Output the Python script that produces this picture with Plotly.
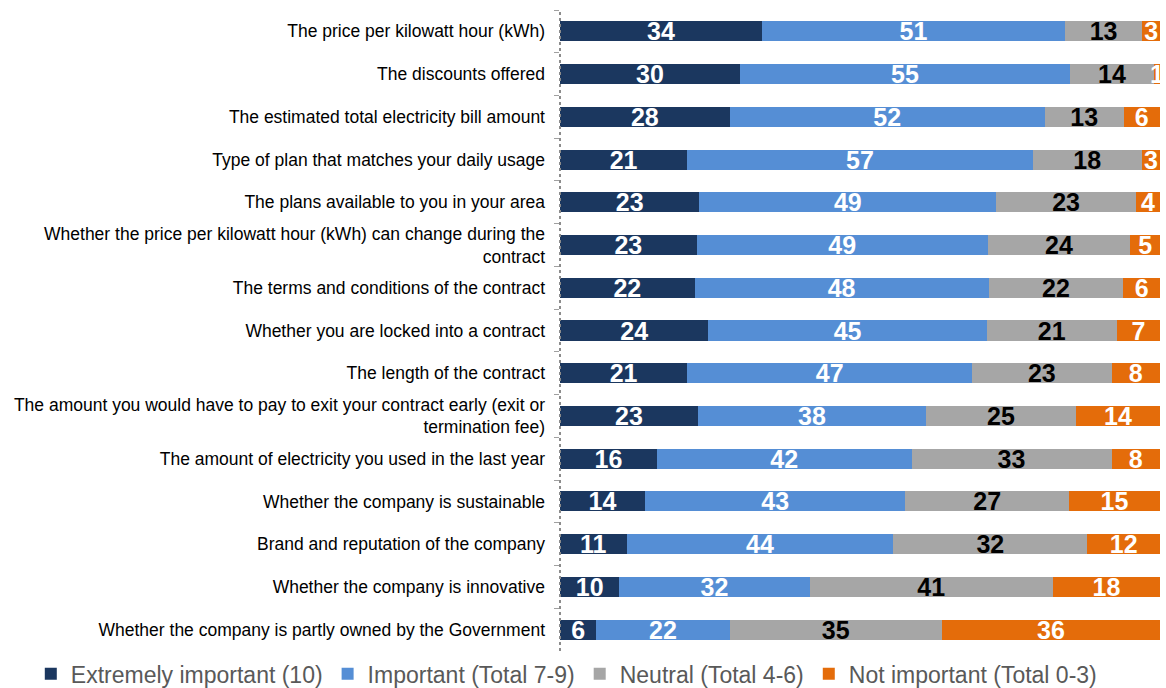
import plotly.graph_objects as go

categories = [
    "The price per kilowatt hour (kWh)",
    "The discounts offered",
    "The estimated total electricity bill amount",
    "Type of plan that matches your daily usage",
    "The plans available to you in your area",
    "Whether the price per kilowatt hour (kWh) can change during the<br>contract",
    "The terms and conditions of the contract",
    "Whether you are locked into a contract",
    "The length of the contract",
    "The amount you would have to pay to exit your contract early (exit or<br>termination fee)",
    "The amount of electricity you used in the last year",
    "Whether the company is sustainable",
    "Brand and reputation of the company",
    "Whether the company is innovative",
    "Whether the company is partly owned by the Government",
]

extremely_important = [34, 30, 28, 21, 23, 23, 22, 24, 21, 23, 16, 14, 11, 10, 6]
important = [51, 55, 52, 57, 49, 49, 48, 45, 47, 38, 42, 43, 44, 32, 22]
neutral = [13, 14, 13, 18, 23, 24, 22, 21, 23, 25, 33, 27, 32, 41, 35]
not_important = [3, 1, 6, 3, 4, 5, 6, 7, 8, 14, 8, 15, 12, 18, 36]

series = [
    ("Extremely important (10)", extremely_important, "#1B375F", "white"),
    ("Important (Total 7-9)", important, "#558ED5", "white"),
    ("Neutral (Total 4-6)", neutral, "#A6A6A6", "black"),
    ("Not important (Total 0-3)", not_important, "#E46C0A", "white"),
]

FONT = "Liberation Sans, Arial, sans-serif"

fig = go.Figure()
for name, values, color, txt_color in series:
    fig.add_trace(go.Bar(
        y=categories,
        x=values,
        name=name,
        orientation="h",
        marker=dict(color=color, line=dict(width=0)),
        text=[str(v) for v in values],
        textposition="inside",
        insidetextanchor="middle",
        textangle=0,
        textfont=dict(family=FONT, size=25, color=txt_color, weight="bold"),
        hoverinfo="skip",
    ))

fig.update_layout(
    barmode="stack",
    barnorm="percent",
    bargap=0.53,
    width=1166,
    height=688,
    margin=dict(l=560, r=6, t=10, b=37, autoexpand=False),
    paper_bgcolor="white",
    plot_bgcolor="white",
    uniformtext=dict(minsize=25, mode="show"),
    font=dict(family=FONT, color="black"),
    legend=dict(
        orientation="h",
        x=-0.882, xanchor="left",
        y=-0.002, yanchor="top",
        font=dict(size=23, color="#595959"),
        traceorder="normal",
        itemwidth=30,
    ),
    xaxis=dict(
        range=[0, 100],
        showgrid=False,
        zeroline=False,
        showticklabels=False,
        showline=False,
        fixedrange=True,
    ),
    yaxis=dict(
        autorange="reversed",
        showgrid=False,
        zeroline=False,
        showline=False,
        ticks="outside",
        tickson="boundaries",
        ticklen=5,
        tickcolor="#A0A0A0",
        tickfont=dict(size=17.5, color="black"),
        ticklabelstandoff=14,
    ),
)

# dotted vertical axis line along the left edge of the plot area
fig.add_shape(
    type="line", xref="paper", yref="paper",
    x0=0, x1=0, y0=0, y1=1,
    line=dict(color="#8C8C8C", width=2, dash="dot"),
    layer="above",
)

fig.write_html("out.html")
